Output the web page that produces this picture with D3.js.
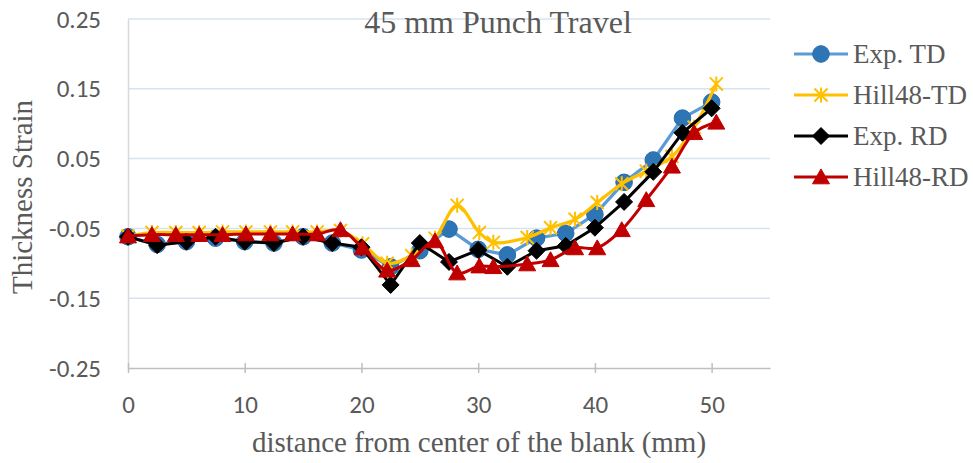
<!DOCTYPE html>
<html>
<head>
<meta charset="utf-8">
<script src="https://cdn.jsdelivr.net/npm/d3@7"></script>
<style>
  body { margin: 0; background: #fff; }
  svg { display: block; }
</style>
</head>
<body>
<svg id="chart" width="973" height="463"></svg>
<script>
// Measured thickness strain along the blank (experiment, every 2.5 mm)
const expX  = [0, 2.5, 5, 7.5, 10, 12.5, 15, 17.5, 20, 22.5, 25, 27.5, 30, 32.5, 35, 37.5, 40, 42.5, 45, 47.5, 50];
const expTD = [-0.062, -0.073, -0.069, -0.064, -0.069, -0.071, -0.062, -0.071, -0.081, -0.105, -0.082, -0.051, -0.080, -0.088, -0.064, -0.057, -0.030, 0.016, 0.048, 0.108, 0.131];
const expRD = [-0.062, -0.074, -0.069, -0.062, -0.069, -0.071, -0.062, -0.071, -0.077, -0.131, -0.071, -0.098, -0.081, -0.105, -0.082, -0.075, -0.049, -0.012, 0.031, 0.087, 0.122];

// Hill48 simulation results at the FE node positions
const hillX  = [0, 2.05, 4.1, 6.1, 8.1, 10.1, 12.2, 14.1, 16.2, 18.2, 20.1, 22.2, 24.3, 26.3, 28.2, 30.1, 31.3, 34.2, 36.2, 38.3, 40.2, 42.3, 44.4, 46.6, 48.5, 50.4];
const hillTD = [-0.061, -0.056, -0.056, -0.056, -0.055, -0.055, -0.055, -0.055, -0.055, -0.053, -0.072, -0.100, -0.089, -0.064, -0.017, -0.056, -0.070, -0.063, -0.049, -0.037, -0.013, 0.014, 0.032, 0.053, 0.095, 0.157];
const hillRD = [-0.061, -0.059, -0.059, -0.059, -0.059, -0.058, -0.058, -0.058, -0.058, -0.052, -0.078, -0.110, -0.095, -0.068, -0.114, -0.104, -0.105, -0.101, -0.095, -0.078, -0.078, -0.052, -0.009, 0.039, 0.087, 0.102];

const xTickValues = [0, 10, 20, 30, 40, 50];
const yTickValues = [-0.25, -0.15, -0.05, 0.05, 0.15, 0.25];

const chartTitle = "45 mm Punch Travel";
const xTitle = "distance from center of the blank (mm)";
const yTitle = "Thickness Strain";

// marker shapes, centred on the data point
const markers = {
  circle:   s => `M${s},0A${s},${s} 0 1,1 ${-s},0A${s},${s} 0 1,1 ${s},0Z`,
  diamond:  s => `M0,${-s}L${s},0L0,${s}L${-s},0Z`,
  triangle: s => `M0,${-s * 0.95}L${s},${s * 0.8}L${-s},${s * 0.8}Z`,
  star:     s => `M0,${-s}V${s}M${-s * 0.87},${-s * 0.87}L${s * 0.87},${s * 0.87}M${-s * 0.87},${s * 0.87}L${s * 0.87},${-s * 0.87}`
};

const series = [
  { name: "Exp. TD",   xs: expX,  ys: expTD,  line: "#5B9BD5", width: 3.2, smooth: false,
    marker: "circle",   size: 8.3, fill: "#2E75B6", stroke: "#2A6CAA", sw: 1 },
  { name: "Hill48-TD", xs: hillX, ys: hillTD, line: "#FFC000", width: 3.2, smooth: true,
    marker: "star",     size: 7.5, fill: "none",    stroke: "#FFC000", sw: 2 },
  { name: "Exp. RD",   xs: expX,  ys: expRD,  line: "#000000", width: 3,   smooth: false,
    marker: "diamond",  size: 8.5, fill: "#000000", stroke: "#000000", sw: 1 },
  { name: "Hill48-RD", xs: hillX, ys: hillRD, line: "#C00000", width: 3,   smooth: true,
    marker: "triangle", size: 8.5, fill: "#C00000", stroke: "#C00000", sw: 1 }
];

const svg = d3.select("#chart");
svg.append("rect").attr("width", 973).attr("height", 463).attr("fill", "#fff");

const x = d3.scaleLinear().domain([0, 55]).range([128, 770]);
const y = d3.scaleLinear().domain([-0.25, 0.25]).range([368, 19]);

const serif = "'Liberation Serif', 'Times New Roman', serif";
const sans = "Carlito, Lato, 'Open Sans', sans-serif";
const textColor = "#595959";

// horizontal gridlines
svg.append("g")
  .selectAll("line")
  .data(yTickValues.filter(v => v > -0.25))
  .join("line")
  .attr("x1", x(0)).attr("x2", x(55))
  .attr("y1", d => y(d)).attr("y2", d => y(d))
  .attr("stroke", "#D6E3F1").attr("stroke-width", 1.5);

// y axis: labels only, plus a pale vertical rule
const yAxis = d3.axisLeft(y).tickValues(yTickValues).tickSize(0).tickPadding(27)
  .tickFormat(d => d.toFixed(2));
const gy = svg.append("g").attr("transform", `translate(${x(0)},0)`).call(yAxis);
gy.select(".domain").attr("stroke", "#D9D9D9").attr("stroke-width", 1.5);
gy.selectAll("text").attr("fill", textColor).attr("font-family", sans).attr("font-size", 25);

// x axis with ticks crossing the baseline
const xAxis = d3.axisBottom(x).tickValues(xTickValues).tickSizeInner(5).tickSizeOuter(0).tickPadding(22);
const gx = svg.append("g").attr("transform", `translate(0,${y(-0.25)})`).call(xAxis);
gx.select(".domain").attr("stroke", "#BFBFBF").attr("stroke-width", 1.5);
gx.selectAll(".tick line").attr("y1", -5).attr("stroke", "#BFBFBF").attr("stroke-width", 1.5);
gx.selectAll("text").attr("fill", textColor).attr("font-family", sans).attr("font-size", 25);

// series lines and markers
series.forEach(s => {
  const pts = s.xs.map((v, i) => [v, s.ys[i]]);
  const line = d3.line()
    .x(d => x(d[0])).y(d => y(d[1]))
    .curve(s.smooth ? d3.curveCatmullRom.alpha(0.5) : d3.curveLinear);
  const g = svg.append("g");
  g.append("path").attr("d", line(pts))
    .attr("fill", "none").attr("stroke", s.line).attr("stroke-width", s.width)
    .attr("stroke-linejoin", "round").attr("stroke-linecap", "round");
  g.selectAll("path.m").data(pts).join("path").attr("class", "m")
    .attr("transform", d => `translate(${x(d[0])},${y(d[1])})`)
    .attr("d", markers[s.marker](s.size))
    .attr("fill", s.fill).attr("stroke", s.stroke).attr("stroke-width", s.sw);
});

// titles
svg.append("text").attr("x", 498).attr("y", 33).attr("text-anchor", "middle")
  .attr("font-family", serif).attr("font-size", 32).attr("fill", textColor).text(chartTitle);
svg.append("text").attr("x", 479).attr("y", 452).attr("text-anchor", "middle")
  .attr("font-family", serif).attr("font-size", 29).attr("fill", textColor).text(xTitle);
svg.append("text").attr("transform", "translate(32,197) rotate(-90)").attr("text-anchor", "middle")
  .attr("font-family", serif).attr("font-size", 29).attr("fill", textColor).text(yTitle);

// legend
const legendRows = [54, 95, 136, 177];
const lg = svg.append("g");
series.forEach((s, i) => {
  const cy = legendRows[i];
  lg.append("line").attr("x1", 794).attr("x2", 848).attr("y1", cy).attr("y2", cy)
    .attr("stroke", s.line).attr("stroke-width", s.width);
  lg.append("path").attr("transform", `translate(821,${cy})`)
    .attr("d", markers[s.marker](s.size))
    .attr("fill", s.fill).attr("stroke", s.stroke).attr("stroke-width", s.sw);
  lg.append("text").attr("x", 853).attr("y", cy + 9)
    .attr("font-family", serif).attr("font-size", 27).attr("fill", textColor).text(s.name);
});
</script>
</body>
</html>
